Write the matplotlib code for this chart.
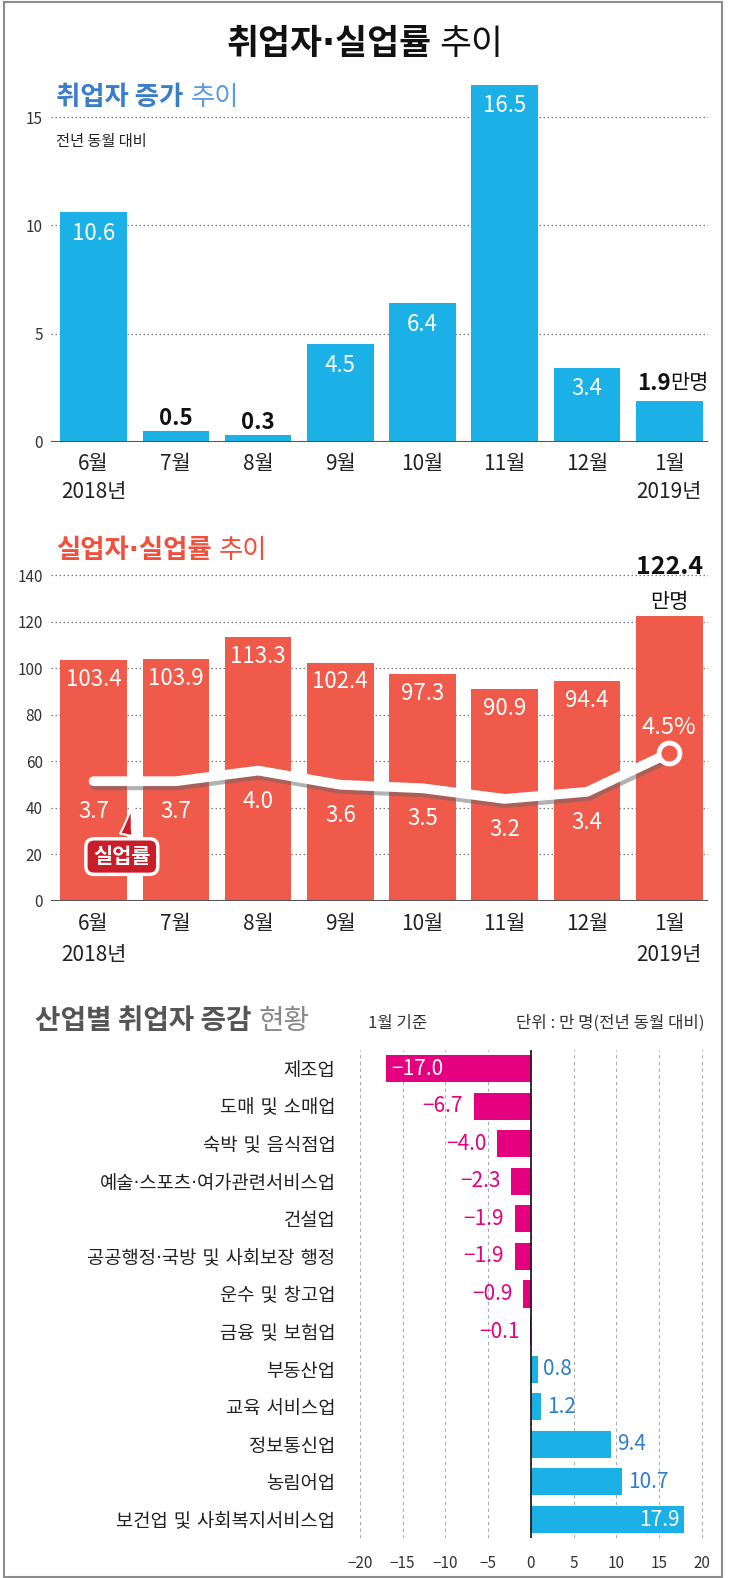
import numpy as np
import matplotlib
matplotlib.use("Agg")
import matplotlib.pyplot as plt
import matplotlib.patheffects as pe
from matplotlib.patches import Rectangle

plt.rcParams['font.family'] = ['Noto Sans CJK KR', 'DejaVu Sans']
plt.rcParams['axes.unicode_minus'] = True
# 가운뎃점을 좁게: DejaVu 먼저, 한글은 Noto로 넘어감
DOT_FAMILY = ['DejaVu Sans', 'Noto Sans CJK KR']

# data
months = ['6월', '7월', '8월', '9월', '10월', '11월', '12월', '1월']
years = ['2018년', '', '', '', '', '', '', '2019년']
emp_change = [10.6, 0.5, 0.3, 4.5, 6.4, 16.5, 3.4, 1.9]
unemployed = [103.4, 103.9, 113.3, 102.4, 97.3, 90.9, 94.4, 122.4]
unemp_rate = [3.7, 3.7, 4.0, 3.6, 3.5, 3.2, 3.4, 4.5]
industries = ['제조업', '도매 및 소매업', '숙박 및 음식점업', '예술·스포츠·여가관련서비스업',
              '건설업', '공공행정·국방 및 사회보장 행정', '운수 및 창고업', '금융 및 보험업',
              '부동산업', '교육 서비스업', '정보통신업', '농림어업', '보건업 및 사회복지서비스업']
ind_change = [-17.0, -6.7, -4.0, -2.3, -1.9, -1.9, -0.9, -0.1, 0.8, 1.2, 9.4, 10.7, 17.9]

BLUE = '#1bb1e7'
RED = '#ef5a4a'
MAGENTA = '#e5007f'
W, H = 730, 1578

fig = plt.figure(figsize=(W / 100, H / 100), dpi=100)
renderer = fig.canvas.get_renderer()


def put_parts(x_px, y_px, parts, center=False, gap_px=7):
    # 굵기가 다른 글자를 이어 붙이기
    texts = []
    cur = x_px
    for s, kw in parts:
        t = fig.text(cur / W, 1 - y_px / H, s, ha='left', va='baseline', **kw)
        texts.append(t)
        cur += t.get_window_extent(renderer).width + gap_px
    if center:
        total = cur - gap_px - x_px
        for t in texts:
            t.set_x(t.get_position()[0] - total / 2 / W)
    return texts


def style_axes(ax):
    for s in ax.spines.values():
        s.set_visible(False)
    ax.set_axisbelow(True)
    ax.yaxis.grid(True, ls=(0, (1.2, 2)), color='#777', lw=0.9)
    ax.tick_params(axis='x', length=0, labelsize=15, labelcolor='#222')
    ax.tick_params(axis='y', length=0, pad=6, labelsize=11, labelcolor='#333')


fig.add_artist(Rectangle((4 / W, 1 / H), 718 / W, 1575 / H, transform=fig.transFigure,
                         fill=False, ec='#8c8c8c', lw=1.5))

# 제목
put_parts(365, 54, [('취업자·실업률', dict(fontsize=25, fontweight='bold', color='#111', family=DOT_FAMILY)),
                    ('추이', dict(fontsize=25, fontweight='light', color='#111'))], center=True)

# 1. 취업자 증가 추이
x = np.arange(len(months))
xlabels = [f'{m}\n{y}' for m, y in zip(months, years)]

ax1 = fig.add_axes([51 / W, 1 - 441.7 / H, 656.6 / W, 367.7 / H])
ax1.bar(x, emp_change, width=0.81, color=BLUE, zorder=2)
ax1.set_xlim(-0.518, 7.466)
ax1.set_ylim(0, 17)
ax1.set_yticks([0, 5, 10, 15])
ax1.set_xticks(x, labels=xlabels, linespacing=1.35)
style_axes(ax1)
ax1.tick_params(axis='x', pad=8)
ax1.axhline(0, color='#555', lw=1.5, zorder=3)
for i, v in enumerate(emp_change):
    if i == len(emp_change) - 1:
        ax1.annotate(f'{v}', (i, v), xytext=(1, 12.5), textcoords='offset points',
                     ha='right', va='center', fontsize=16, fontweight='bold', color='#111')
        ax1.annotate('만명', (i, v), xytext=(1, 12.5), textcoords='offset points',
                     ha='left', va='center', fontsize=15, color='#111')
    elif v >= 3:
        ax1.annotate(f'{v}', (i, v), xytext=(0, -15), textcoords='offset points',
                     ha='center', va='center', fontsize=16, fontweight='medium', color='white')
    else:
        ax1.annotate(f'{v}', (i, v), xytext=(0, 9), textcoords='offset points',
                     ha='center', va='center', fontsize=16, fontweight='bold', color='#111')

put_parts(56, 105, [('취업자 증가', dict(fontsize=19, fontweight='bold', color='#3a7dc9')),
                    ('추이', dict(fontsize=19, fontweight='light', color='#5b9bd8'))])
fig.text(56 / W, 1 - 146 / H, '전년 동월 대비', fontsize=11, color='#222', va='baseline')

# 2. 실업자·실업률 추이
ax2 = fig.add_axes([51 / W, 1 - 900.5 / H, 656.6 / W, 337 / H])
ax2.bar(x, unemployed, width=0.81, color=RED, zorder=2)
ax2.set_xlim(-0.518, 7.466)
ax2.set_ylim(0, 145)
ax2.set_yticks(range(0, 141, 20))
ax2.set_xticks(x, labels=xlabels, linespacing=1.55)
style_axes(ax2)
ax2.tick_params(axis='x', pad=9)
ax2.axhline(0, color='#555', lw=1.5, zorder=3)
for i, v in enumerate(unemployed):
    if i == len(unemployed) - 1:
        ax2.annotate(f'{v}', (i, v), xytext=(0, 35), textcoords='offset points',
                     ha='center', va='center', fontsize=18, fontweight='bold', color='#111')
        ax2.annotate('만명', (i, v), xytext=(0, 10), textcoords='offset points',
                     ha='center', va='center', fontsize=15, color='#111')
    else:
        ax2.annotate(f'{v}', (i, v), xytext=(0, -14), textcoords='offset points',
                     ha='center', va='center', fontsize=16, fontweight='medium', color='white')

axr = ax2.twinx()
axr.set_ylim(0.33, 9.85)
axr.axis('off')
axr.plot(x, unemp_rate, color='white', lw=7, solid_capstyle='round', solid_joinstyle='round',
         path_effects=[pe.SimpleLineShadow(offset=(1, -3), shadow_color='#666', alpha=0.5),
                       pe.Normal()], zorder=3)
axr.plot(x[-1], unemp_rate[-1], 'o', ms=15, mfc=RED, mec='white', mew=3.5, zorder=4)
for i, r in enumerate(unemp_rate):
    if i == len(unemp_rate) - 1:
        axr.annotate(f'{r}%', (i, r), xytext=(0, 18), textcoords='offset points',
                     ha='center', va='center', fontsize=17, color='white')
    else:
        axr.annotate(f'{r}', (i, r), xytext=(0, -22), textcoords='offset points',
                     ha='center', va='center', fontsize=16, color='white')

ax2.annotate('실업률', xy=(0.475, 41.8), xytext=(0.343, 18.9), ha='center', va='center',
             color='white', fontsize=15, fontweight='bold', zorder=5,
             bbox=dict(boxstyle='round,pad=0.35,rounding_size=0.4', fc='#c91d2a', ec='white', lw=2.5),
             arrowprops=dict(arrowstyle='wedge,tail_width=0.6,shrink_factor=0.4',
                             fc='#c91d2a', ec='white', lw=1.5))

put_parts(56, 558, [('실업자·실업률', dict(fontsize=19, fontweight='bold', color='#ef4f3b', family=DOT_FAMILY)),
                    ('추이', dict(fontsize=19, fontweight='light', color='#ef4f3b'))])

# 3. 산업별 취업자 증감 현황
ax3 = fig.add_axes([351.4 / W, 0.02516, 359.1 / W, 0.3096])
y = np.arange(len(industries))
colors = [MAGENTA if v < 0 else BLUE for v in ind_change]
ax3.barh(y, ind_change, height=0.72, color=colors, zorder=2)
ax3.set_ylim(len(industries) - 0.5, -0.5)
ax3.set_xlim(-21, 21)
ax3.set_xticks(range(-20, 21, 5))
ax3.set_yticks(y, labels=industries, family=DOT_FAMILY)
for s in ax3.spines.values():
    s.set_visible(False)
ax3.set_axisbelow(True)
ax3.xaxis.grid(True, ls=(0, (3, 3)), color='#aaa', lw=0.8)
ax3.axvline(0, color='#111', lw=1.2, zorder=3)
ax3.tick_params(axis='y', length=0, pad=11.5, labelsize=13.5, labelcolor='#222')
ax3.tick_params(axis='x', length=0, pad=12, labelsize=11, labelcolor='#333')
for i, v in enumerate(ind_change):
    s = f'{v:.1f}'.replace('-', '−')
    if v <= -10:
        ax3.annotate(s, (v, i), xytext=(4, 0), textcoords='offset points',
                     ha='left', va='center', fontsize=15, color='white')
    elif v < 0:
        ax3.annotate(s, (v, i), xytext=(-7.5, 0), textcoords='offset points',
                     ha='right', va='center', fontsize=15, color=MAGENTA)
    elif v >= 15:
        ax3.annotate(s, (v, i), xytext=(-3, 0), textcoords='offset points',
                     ha='right', va='center', fontsize=15, color='white')
    else:
        ax3.annotate(s, (v, i), xytext=(4, 0), textcoords='offset points',
                     ha='left', va='center', fontsize=15, color='#2f7fc8')

put_parts(35, 1029, [('산업별 취업자 증감', dict(fontsize=20, fontweight='bold', color='#555')),
                     ('현황', dict(fontsize=20, fontweight='light', color='#888'))])
fig.text(368 / W, 1 - 1028 / H, '1월 기준', fontsize=12, color='#333', va='baseline')
fig.text(705 / W, 1 - 1028 / H, '단위 : 만 명(전년 동월 대비)', fontsize=12, color='#333',
         ha='right', va='baseline')

fig.savefig('out.png', dpi=100)
